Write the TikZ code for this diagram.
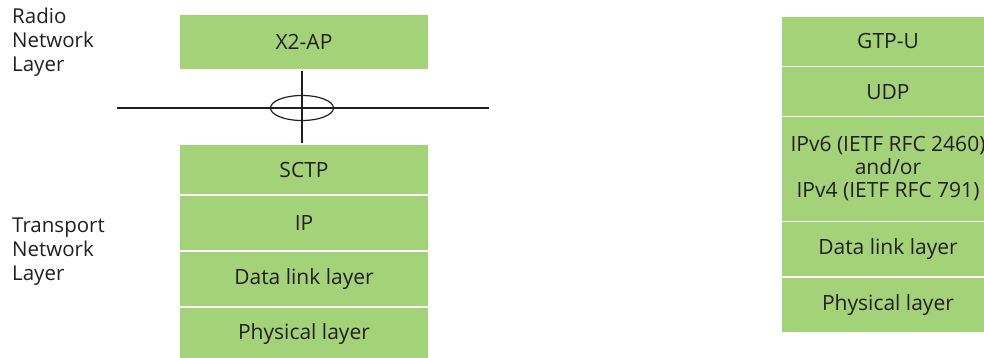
\documentclass[tikz,border=0pt]{standalone}
\usepackage{fontspec}
\setmainfont{Open Sans}
\usetikzlibrary{shapes.geometric}
\definecolor{boxgreen}{RGB}{164,210,121}
\definecolor{inkgray}{RGB}{35,31,32}
\begin{document}
\begin{tikzpicture}[x=1pt,y=-1pt,
  layerbox/.style={fill=boxgreen,draw=none,inner sep=0pt,text=inkgray,
    font=\fontsize{21}{23}\selectfont,align=center},
  sidelabel/.style={anchor=north west,inner sep=0pt,text=inkgray,
    font=\fontsize{20.5}{24}\selectfont,align=left},
  bar/.style={draw=inkgray,line width=2.6pt},
  ring/.style={draw=inkgray,line width=1.2pt}]
\useasboundingbox (0,0) rectangle (984,358);
% left stack
\node[layerbox,minimum width=248,minimum height=54] (x2ap) at (304,42) {X2-AP};
\node[layerbox,minimum width=248,minimum height=49] (sctp) at (304,169.5) {SCTP};
\node[layerbox,minimum width=248,minimum height=54.5] (ip) at (304,222.75) {IP};
\node[layerbox,minimum width=248,minimum height=54.5] (dll) at (304,278.75) {Data link layer};
\node[layerbox,minimum width=248,minimum height=52] (phl) at (304,334) {Physical layer};
% right stack
\node[layerbox,minimum width=212,minimum height=49] (gtpu) at (888,41.5) {GTP-U};
\node[layerbox,minimum width=212,minimum height=48.5] (udp) at (888,91.75) {UDP};
\node[layerbox,minimum width=212,minimum height=103] (ipv) at (888,169) {IPv6 (IETF RFC 2460)\\and/or\\IPv4 (IETF RFC 791)};
\node[layerbox,minimum width=212,minimum height=54] (dll2) at (888,249) {Data link layer};
\node[layerbox,minimum width=212,minimum height=54.5] (phl2) at (888,304.75) {Physical layer};
% side labels
\node[sidelabel] (rnl) at (12,8) {Radio\\Network\\Layer};
\node[sidelabel] (tnl) at (12,218) {Transport\\Network\\Layer};
% cross with ellipse
\coordinate (hl) at (117,108);
\coordinate (hr) at (489,108);
\coordinate (vt) at (302,71);
\coordinate (vb) at (302,143);
\draw[bar] (hl) -- (hr);
\draw[bar] (vt) -- (vb);
\node[ring,ellipse,minimum width=63,minimum height=25,inner sep=0pt] (ell) at (302,108) {};
\end{tikzpicture}
\end{document}
